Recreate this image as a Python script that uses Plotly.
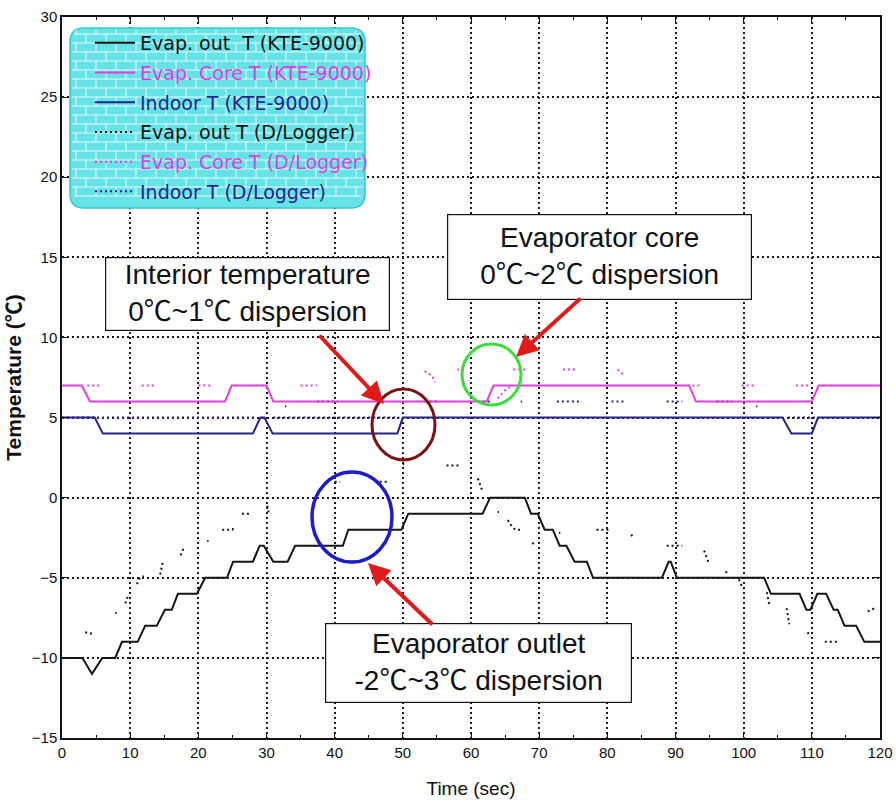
import plotly.graph_objects as go

# ---------------- data ----------------
# KTE-9000 (solid lines)
kte_out_t = [0, 3, 4.4, 5.9, 7.8, 8.8, 11.1, 12.2, 13.9, 15.1, 16.1, 17.0, 19.8, 21.0, 24.2, 25.1, 28.0, 29.0, 29.6,
             31.0, 33.1, 34.2, 41.2, 42.0, 49.8, 50.8, 61.7, 62.8, 67.9, 68.8, 69.8, 70.8, 72.0, 73.0, 74.0, 75.2,
             77.0, 77.9, 88.0, 89.0, 89.3, 90.2, 103.0, 104.0, 108.2, 109.2, 109.8, 110.8, 112.1, 113.2, 113.8,
             114.8, 116.5, 117.7, 120]
kte_out_v = [-10, -10, -11, -10, -10, -9, -9, -8, -8, -7, -7, -6, -6, -5, -5, -4, -4, -3, -3,
             -4, -4, -3, -3, -2, -2, -1, -1, 0, 0, -1, -1, -2, -2, -3, -3, -4,
             -4, -5, -5, -4, -4, -5, -5, -6, -6, -7, -7, -6, -6, -7, -7,
             -8, -8, -9, -9]

kte_core_t = [0, 2.9, 4.1, 23.9, 24.9, 30.0, 31.0, 62.3, 63.3, 92.0, 93.0, 110.0, 111.0, 120]
kte_core_v = [7, 7, 6, 6, 7, 7, 6, 6, 7, 7, 6, 6, 7, 7]

kte_in_t = [0, 4.8, 6.0, 28.0, 29.1, 29.7, 30.9, 49.2, 50.0, 105.7, 107.0, 110.0, 110.9, 120]
kte_in_v = [5, 5, 4, 4, 5, 5, 4, 4, 5, 5, 4, 4, 5, 5]

# D/Logger (dotted, visible pieces; None separates pieces)
dl_out_t = [3.4, 4.5, None, 7.8, 8.0, None, 9.3, 9.6, None, 11.0, 11.4, 12.0, None, 14.4, 14.8, None,
            17.4, 17.8, None, 21.3, 21.5, None, 23.5, 25.0, 25.3, None, 26.4, 27.8, None, 30.1, 30.3, None,
            40.0, 40.8, None, 46.6, 48.0, None, 50.0, 50.2, None, 56.4, 58.4, None, 61.0, 61.3, 61.6, None,
            63.9, 64.1, None, 65.4, 66.0, 66.5, 67.5, None, 69.0, 69.4, None, 72.9, 73.1, None,
            78.4, 80.4, None, 83.5, 83.8, None, 88.7, 91.0, None, 94.2, 94.5, 94.8, None, 97.4, 97.6, None,
            99.3, 99.6, 99.9, None, 103.4, 103.6, 103.8, None, 106.3, 106.5, 106.7, None, 109.4, 109.7, None,
            111.9, 113.8, None, 118.2, 119.2]
dl_out_v = [-8.4, -8.5, None, -7.2, -7.2, None, -6.6, -6.2, None, -5.4, -5.0, -4.9, None, -4.8, -4.0, None,
            -3.6, -3.2, None, -2.7, -2.7, None, -2.0, -2.0, -1.8, None, -1.0, -1.0, None, -0.5, -0.9, None,
            1.0, 1.0, None, 1.0, 1.0, None, 2.1, 2.1, None, 2.0, 2.0, None, 1.2, 0.8, 0.5, None,
            -0.9, -0.9, None, -1.4, -1.8, -2.0, -2.0, None, -2.8, -3.0, None, -2.2, -2.2, None,
            -2.0, -2.0, None, -2.3, -2.5, None, -3.0, -3.0, None, -3.3, -3.7, -4.0, None, -4.6, -4.8, None,
            -5.1, -5.4, -5.7, None, -5.9, -6.3, -6.8, None, -6.9, -7.4, -7.9, None, -8.4, -8.7, None,
            -9.0, -9.0, None, -7.1, -6.9]

dl_core_t = [3.7, 5.9, None, 11.7, 13.9, None, 20.0, 22.0, None, 35.0, 37.4, None, 53.2, 54.3, 54.7, None,
             58.0, 59.0, None, 63.9, 64.5, 65.0, 65.7, None, 66.2, 68.2, None, 73.5, 75.5, None, 81.5, 82.6, None,
             92.5, 93.5, None, 99.7, 101.6, None, 107.7, 109.7]
dl_core_v = [7, 7, None, 7, 7, None, 7, 7, None, 7, 7, None, 7.9, 7.6, 7.2, None,
             8, 8, None, 6.2, 6.5, 6.7, 6.9, None, 8, 8, None, 8, 8, None, 8, 7.6, None,
             7, 7, None, 7, 7, None, 7, 7]

dl_in_t = [0, 28.5, None, 31.0, 49.5, None, 32.7, 32.9, None, 37.4, 40.5, None, 53.2, 55.0, None, 61.0, 63.2, None,
           67.3, 67.5, None, 72.6, 76.3, None, 80.6, 82.8, None, 88.7, 91.0, None, 96.0, 98.4, None,
           101.8, 102.0, None, 106.5, 110.5]
dl_in_v = [5, 5, None, 5, 5, None, 5.7, 5.7, None, 6, 6, None, 6, 6, None, 6, 6, None,
           6, 6, None, 6, 6, None, 6, 6, None, 6, 6, None, 6, 6, None,
           5.7, 5.7, None, 5, 5]

x_ticks = list(range(0, 121, 10))
y_ticks = list(range(-15, 31, 5))

BLACK = "#151515"
MAGENTA = "#e33de3"
NAVY = "#24248c"

# ---------------- geometry helpers (pixel -> paper) ----------------
W, H = 896, 804
L, R, T, B = 62, 16, 17, 66
PW, PH = W - L - R, H - T - B


def xp(px):
    return (px - L) / PW


def yp(py):
    return (H - B - py) / PH


fig = go.Figure()

DOT = "2px,3px"
# D/Logger traces first (drawn beneath)
fig.add_trace(go.Scatter(x=dl_out_t, y=dl_out_v, mode="lines", connectgaps=False,
                         line=dict(color=BLACK, width=2, dash=DOT),
                         name='<span style="color:#151515">Evap. out T (D/Logger)</span>',
                         legendgroup="g4", legendrank=4))
fig.add_trace(go.Scatter(x=dl_core_t, y=dl_core_v, mode="lines", connectgaps=False,
                         line=dict(color=MAGENTA, width=2, dash=DOT),
                         name='<span style="color:#e33de3">Evap. Core T (D/Logger)</span>',
                         legendgroup="g5", legendrank=5))
fig.add_trace(go.Scatter(x=dl_in_t, y=dl_in_v, mode="lines", connectgaps=False,
                         line=dict(color=NAVY, width=2, dash=DOT),
                         name='<span style="color:#24248c">Indoor T (D/Logger)</span>',
                         legendgroup="g6", legendrank=6))
# KTE-9000 solid lines
fig.add_trace(go.Scatter(x=kte_out_t, y=kte_out_v, mode="lines",
                         line=dict(color=BLACK, width=2),
                         name='<span style="color:#151515">Evap. out  T (KTE-9000)</span>',
                         legendgroup="g1", legendrank=1))
fig.add_trace(go.Scatter(x=kte_core_t, y=kte_core_v, mode="lines",
                         line=dict(color=MAGENTA, width=2),
                         name='<span style="color:#e33de3">Evap. Core T (KTE-9000)</span>',
                         legendgroup="g2", legendrank=2))
fig.add_trace(go.Scatter(x=kte_in_t, y=kte_in_v, mode="lines",
                         line=dict(color=NAVY, width=2),
                         name='<span style="color:#24248c">Indoor T (KTE-9000)</span>',
                         legendgroup="g3", legendrank=3))

# ---------------- legend background: cyan brick pattern with rounded corners ----------------
X0, Y0, X1, Y1, RAD = 70, 28, 365, 208, 14


def P(px, py):
    return f"{xp(px):.5f},{yp(py):.5f}"


rr = (f"M{P(X0 + RAD, Y0)} L{P(X1 - RAD, Y0)} Q{P(X1, Y0)} {P(X1, Y0 + RAD)} "
      f"L{P(X1, Y1 - RAD)} Q{P(X1, Y1)} {P(X1 - RAD, Y1)} L{P(X0 + RAD, Y1)} "
      f"Q{P(X0, Y1)} {P(X0, Y1 - RAD)} L{P(X0, Y0 + RAD)} Q{P(X0, Y0)} {P(X0 + RAD, Y0)} Z")
shapes = [dict(type="path", path=rr, xref="paper", yref="paper", fillcolor="#66e3e6",
               line=dict(color="#3cc8cc", width=1.5), layer="above")]
brick = []
row_h, brick_w = 9, 20
yy = Y0 + 6
r = 0
while yy < Y1 - 4:
    x_start = X0 + 4 if yy < Y0 + RAD or yy > Y1 - RAD else X0 + 2
    x_end = X1 - 4 if yy < Y0 + RAD or yy > Y1 - RAD else X1 - 2
    brick.append(f"M{P(x_start, yy)} L{P(x_end, yy)}")
    xx = X0 + 6 + (brick_w // 2 if r % 2 else 0)
    while xx < X1 - 4:
        ytop = max(yy - row_h, Y0 + 2)
        brick.append(f"M{P(xx, ytop)} L{P(xx, yy)}")
        xx += brick_w
    yy += row_h
    r += 1
shapes.append(dict(type="path", path=" ".join(brick), xref="paper", yref="paper",
                   line=dict(color="rgba(255,255,255,0.85)", width=1), layer="above"))

# ---------------- highlight circles ----------------
for (ax0, ay0, ax1, ay1, col, w) in [(372, 389, 435, 460, "#7a1212", 3),
                                      (462, 344, 521, 405, "#3ddc3d", 3),
                                      (312, 472, 392, 562, "#1c1cc8", 3.5)]:
    shapes.append(dict(type="circle", xref="paper", yref="paper",
                       x0=xp(ax0), x1=xp(ax1), y0=yp(ay1), y1=yp(ay0),
                       line=dict(color=col, width=w), layer="above"))

# ---------------- callout boxes and arrows ----------------
ann = []
BOXFONT = dict(family="Liberation Sans, Arial", size=28, color="#111")
DEG = '<span style="font-family:\'Noto Sans CJK SC\'">℃</span>'
for (bx0, by0, bx1, by1, txt) in [(105, 257, 390, 331, f"Interior temperature<br>0{DEG}~1{DEG} dispersion"),
                                   (447, 214, 752, 300, f"Evaporator core<br>0{DEG}~2{DEG} dispersion"),
                                   (325, 623, 632, 703, f"Evaporator outlet<br>-2{DEG}~3{DEG} dispersion")]:
    ann.append(dict(x=xp((bx0 + bx1) / 2), y=yp((by0 + by1) / 2), xref="paper", yref="paper",
                    text=txt, showarrow=False, font=BOXFONT, align="center",
                    width=bx1 - bx0 - 4, height=by1 - by0 - 4, borderpad=1,
                    bgcolor="white", bordercolor="#111", borderwidth=1.2,
                    xanchor="center", yanchor="middle"))
for (tx, ty, hx, hy) in [(318, 334, 384, 404), (582, 297, 516, 357), (434, 626, 368, 563)]:
    ann.append(dict(x=xp(hx), y=yp(hy), xref="paper", yref="paper", text="",
                    showarrow=True, ax=tx - hx, ay=ty - hy, axref="pixel", ayref="pixel",
                    arrowhead=2, arrowsize=1.1, arrowwidth=4, arrowcolor="#e01b1b"))

TICKFONT = dict(family="Liberation Sans Narrow, Liberation Sans, Arial", size=15, color="#111")
grid = dict(showgrid=True, gridcolor="#1a1a1a", gridwidth=1.6, griddash="2px,3px",
            showline=True, linecolor="#111", linewidth=1.5, mirror="ticks",
            ticks="inside", ticklen=6, tickcolor="#111", zeroline=False, tickfont=TICKFONT,
            automargin=False)

fig.update_layout(
    width=W, height=H,
    margin=dict(l=L, r=R, t=T, b=B, autoexpand=False),
    paper_bgcolor="white", plot_bgcolor="white",
    xaxis=dict(range=[0, 120], tickvals=x_ticks,
               minor=dict(dtick=5, ticks="inside", ticklen=3, tickcolor="#111", showgrid=False),
               title=dict(text="Time (sec)", font=dict(family="Liberation Sans Narrow, Liberation Sans", size=19,
                                                        color="#111"), standoff=22),
               **grid),
    yaxis=dict(range=[-15, 30], tickvals=y_ticks,
               title=dict(text="<b>Temperature (℃)</b>",
                          font=dict(family="Liberation Sans Narrow, Liberation Sans, Noto Sans CJK SC", size=21,
                                    color="#111"), standoff=4),
               **grid),
    showlegend=True,
    legend=dict(x=xp(90), y=yp(24), xanchor="left", yanchor="top", bgcolor="rgba(0,0,0,0)",
                borderwidth=0, font=dict(family="DejaVu Sans", size=19), itemwidth=40,
                traceorder="grouped", tracegroupgap=2),
    shapes=shapes,
    annotations=ann,
)

fig.write_html("out.html")
